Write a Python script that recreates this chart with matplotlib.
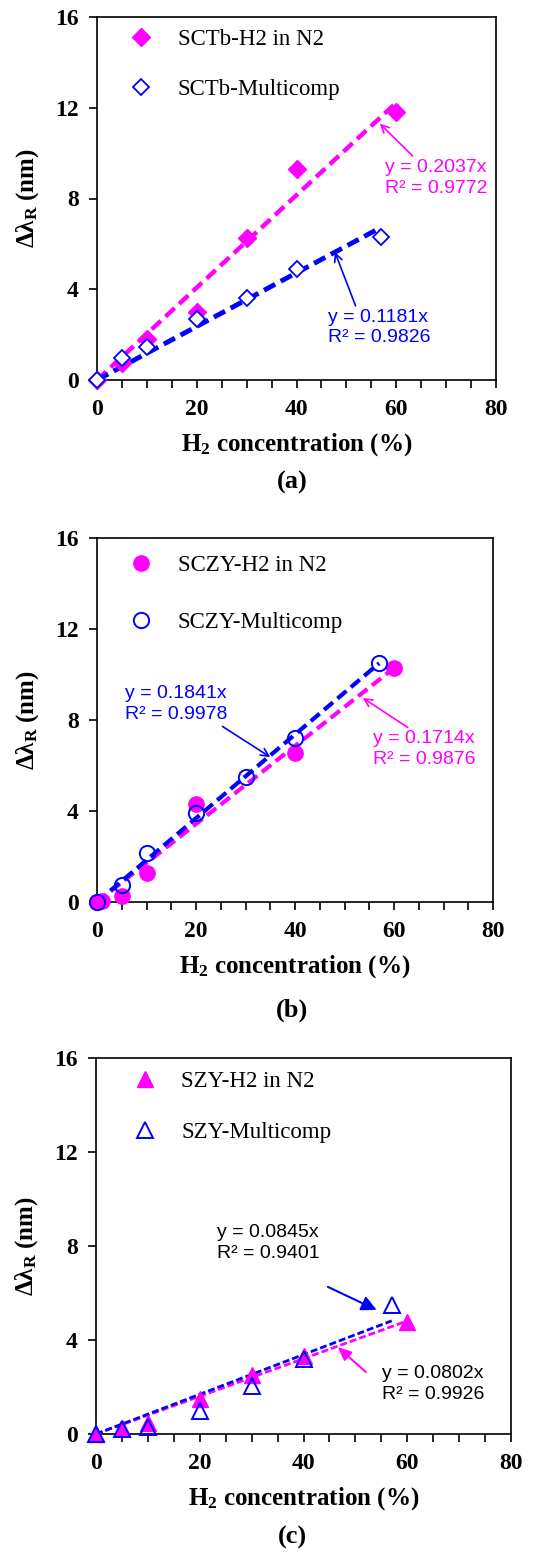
import numpy as np
import matplotlib
matplotlib.use('Agg')
import matplotlib.pyplot as plt
from matplotlib.ticker import MultipleLocator

MAGENTA = '#FF00FF'
BLUE = '#0000FF'

plt.rcParams['font.family'] = ['Liberation Serif', 'DejaVu Serif']
plt.rcParams['mathtext.fontset'] = 'custom'
plt.rcParams['mathtext.rm'] = 'Liberation Serif'
plt.rcParams['mathtext.bf'] = 'Liberation Serif:bold'
plt.rcParams['mathtext.it'] = 'Liberation Serif:italic'
plt.rcParams['mathtext.default'] = 'bf'

# --- (a) SCTb ---
a_labels = ['SCTb-H2 in N2', 'SCTb-Multicomp']
a_n2_x = [0, 5, 10, 20, 30, 40, 60]
a_n2_y = [0, 0.75, 1.8, 3.0, 6.25, 9.3, 11.8]
a_mc_x = [0, 5, 10, 20, 30, 40, 57]
a_mc_y = [0, 0.95, 1.47, 2.68, 3.63, 4.88, 6.32]
a_slopes = [0.2037, 0.1181]
a_r2 = [0.9772, 0.9826]
a_fit_xmax = [60, 56]

# --- (b) SCZY ---
b_labels = ['SCZY-H2 in N2', 'SCZY-Multicomp']
b_n2_x = [0, 1, 5, 10, 20, 40, 60]
b_n2_y = [0, 0.05, 0.28, 1.27, 4.3, 6.53, 10.29]
b_mc_x = [0, 5, 10, 20, 30, 40, 57]
b_mc_y = [0, 0.73, 2.15, 3.93, 5.51, 7.22, 10.5]
b_slopes = [0.1714, 0.1841]
b_r2 = [0.9876, 0.9978]
b_fit_xmax = [60, 57]

# --- (c) SZY ---
c_labels = ['SZY-H2 in N2', 'SZY-Multicomp']
c_n2_x = [0, 5, 10, 20, 30, 40, 60]
c_n2_y = [0, 0.24, 0.45, 1.5, 2.5, 3.3, 4.78]
c_mc_x = [0, 5, 10, 20, 30, 40, 57]
c_mc_y = [0, 0.2, 0.3, 1.0, 2.04, 3.2, 5.48]
c_slopes = [0.0802, 0.0845]
c_r2 = [0.9926, 0.9401]
c_fit_xmax = [60, 57]

W, H = 540, 1552
fig = plt.figure(figsize=(W / 100, H / 100), dpi=100)


def make_axes(left, top, right, bottom):
    ax = fig.add_axes([left / W, 1 - bottom / H, (right - left) / W, (bottom - top) / H])
    ax.set_xlim(0, 80)
    ax.set_ylim(0, 16)
    ax.xaxis.set_major_locator(MultipleLocator(20))
    ax.xaxis.set_minor_locator(MultipleLocator(5))
    ax.yaxis.set_major_locator(MultipleLocator(4))
    ax.tick_params(which='both', direction='out', length=6, width=1.2, top=False, right=False)
    ax.tick_params(axis='both', labelsize=17)
    ax.tick_params(axis='x', pad=8)
    ax.tick_params(axis='y', pad=7)
    for lab in ax.get_xticklabels() + ax.get_yticklabels():
        lab.set_fontweight('bold')
    for sp in ax.spines.values():
        sp.set_linewidth(1.2)
    ax.set_xlabel('H$_2$ concentration (%)', fontsize=18, fontweight='bold', labelpad=8)
    ax.set_ylabel(r'$\Delta\lambda_R$ (nm)', fontsize=18, fontweight='bold', labelpad=10)
    return ax


def fit_line(ax, slope, xmax, color, lw, dashes):
    xs = np.array([0, xmax])
    ax.plot(xs, slope * xs, color=color, lw=lw, dashes=dashes, zorder=3)


def add_legend(ax, anchor, spacing):
    ax.legend(loc='upper left', bbox_to_anchor=anchor, frameon=False, numpoints=1,
              handlelength=1.0, handletextpad=1.1, labelspacing=spacing,
              prop={'family': 'Liberation Serif', 'size': 16.5})


sans = {'family': 'Liberation Sans', 'fontsize': 14, 'linespacing': 1.3}

# ---------------- (a) ----------------
ax = make_axes(97, 17, 496, 380)
ax.plot(a_n2_x, a_n2_y, 'D', color=MAGENTA, ms=9, label=a_labels[0], zorder=4, clip_on=False)
ax.plot(a_mc_x, a_mc_y, 'D', mfc='white', mec=BLUE, mew=1.3, ms=8, label=a_labels[1], zorder=4, clip_on=False)
fit_line(ax, a_slopes[0], a_fit_xmax[0], MAGENTA, 3.2, (2.8, 1.4))
fit_line(ax, a_slopes[1], a_fit_xmax[1], BLUE, 3.5, (2.6, 1.3))
add_legend(ax, (0.03, 1.025), 1.3)
ax.annotate(f'y = {a_slopes[0]}x\nR² = {a_r2[0]}', xy=(56.7, 11.3), xytext=(57.7, 9.75),
            color=MAGENTA, va='top', ha='left', **sans,
            arrowprops=dict(arrowstyle='->', color=MAGENTA, lw=1.2, shrinkA=0, shrinkB=0,
                            relpos=(0.3, 1.0)))
ax.annotate(f'y = {a_slopes[1]}x\nR² = {a_r2[1]}', xy=(47.7, 5.64), xytext=(46.3, 3.15),
            color=BLUE, va='top', ha='left', **sans,
            arrowprops=dict(arrowstyle='->', color=BLUE, lw=1.2, shrinkA=0, shrinkB=0,
                            relpos=(0.28, 1.0)))
fig.text(292 / W, 1 - 482 / H, '(a)', ha='center', va='center', fontsize=19, fontweight='bold')

# ---------------- (b) ----------------
ax = make_axes(97, 538, 493, 902)
ax.plot(b_n2_x, b_n2_y, 'o', color=MAGENTA, ms=11, label=b_labels[0], zorder=4, clip_on=False)
ax.plot(b_mc_x, b_mc_y, 'o', mfc='none', mec=BLUE, mew=1.4, ms=11, label=b_labels[1], zorder=5, clip_on=False)
fit_line(ax, b_slopes[0], b_fit_xmax[0], MAGENTA, 3, (2.8, 1.4))
fit_line(ax, b_slopes[1], b_fit_xmax[1], BLUE, 3, (2.8, 1.4))
add_legend(ax, (0.03, 1.01), 1.55)
ax.annotate(f'y = {b_slopes[1]}x\nR² = {b_r2[1]}', xy=(35.0, 6.37), xytext=(5.7, 9.55),
            color=BLUE, va='top', ha='left', **sans,
            arrowprops=dict(arrowstyle='->', color=BLUE, lw=1.2, shrinkA=0, shrinkB=0,
                            relpos=(0.95, -0.1)))
ax.annotate(f'y = {b_slopes[0]}x\nR² = {b_r2[0]}', xy=(53.7, 8.97), xytext=(55.8, 7.55),
            color=MAGENTA, va='top', ha='left', **sans,
            arrowprops=dict(arrowstyle='->', color=MAGENTA, lw=1.2, shrinkA=0, shrinkB=0,
                            relpos=(0.35, 1.05)))
fig.text(292 / W, 1 - 1010 / H, '(b)', ha='center', va='center', fontsize=19, fontweight='bold')

# ---------------- (c) ----------------
ax = make_axes(96, 1058, 511, 1434)
ax.plot(c_n2_x, c_n2_y, '^', color=MAGENTA, ms=12, label=c_labels[0], zorder=4, clip_on=False)
ax.plot(c_mc_x, c_mc_y, '^', mfc='none', mec=BLUE, mew=1.4, ms=11, label=c_labels[1], zorder=5, clip_on=False)
fit_line(ax, c_slopes[0], c_fit_xmax[0], MAGENTA, 2, (2.5, 1.1))
fit_line(ax, c_slopes[1], c_fit_xmax[1], BLUE, 2, (2.5, 1.1))
add_legend(ax, (0.04, 1.02), 1.3)
# arrows with filled heads pointing at each fit line
ax.annotate('', xy=(54.1, 5.28), xytext=(44.7, 6.26),
            arrowprops=dict(arrowstyle='-|>,head_length=0.9,head_width=0.45', color=BLUE,
                            lw=1.5, shrinkA=0, shrinkB=0))
ax.annotate('', xy=(46.6, 3.7), xytext=(52.0, 2.64),
            arrowprops=dict(arrowstyle='-|>,head_length=0.8,head_width=0.35', color=MAGENTA,
                            lw=1.5, shrinkA=0, shrinkB=0))
ax.text(23.3, 8.95, f'y = {c_slopes[1]}x\nR² = {c_r2[1]}', color='black', va='top', ha='left', **sans)
ax.text(55.1, 2.95, f'y = {c_slopes[0]}x\nR² = {c_r2[0]}', color='black', va='top', ha='left', **sans)
fig.text(292 / W, 1 - 1537 / H, '(c)', ha='center', va='center', fontsize=19, fontweight='bold')

fig.savefig('out.png', dpi=100)
